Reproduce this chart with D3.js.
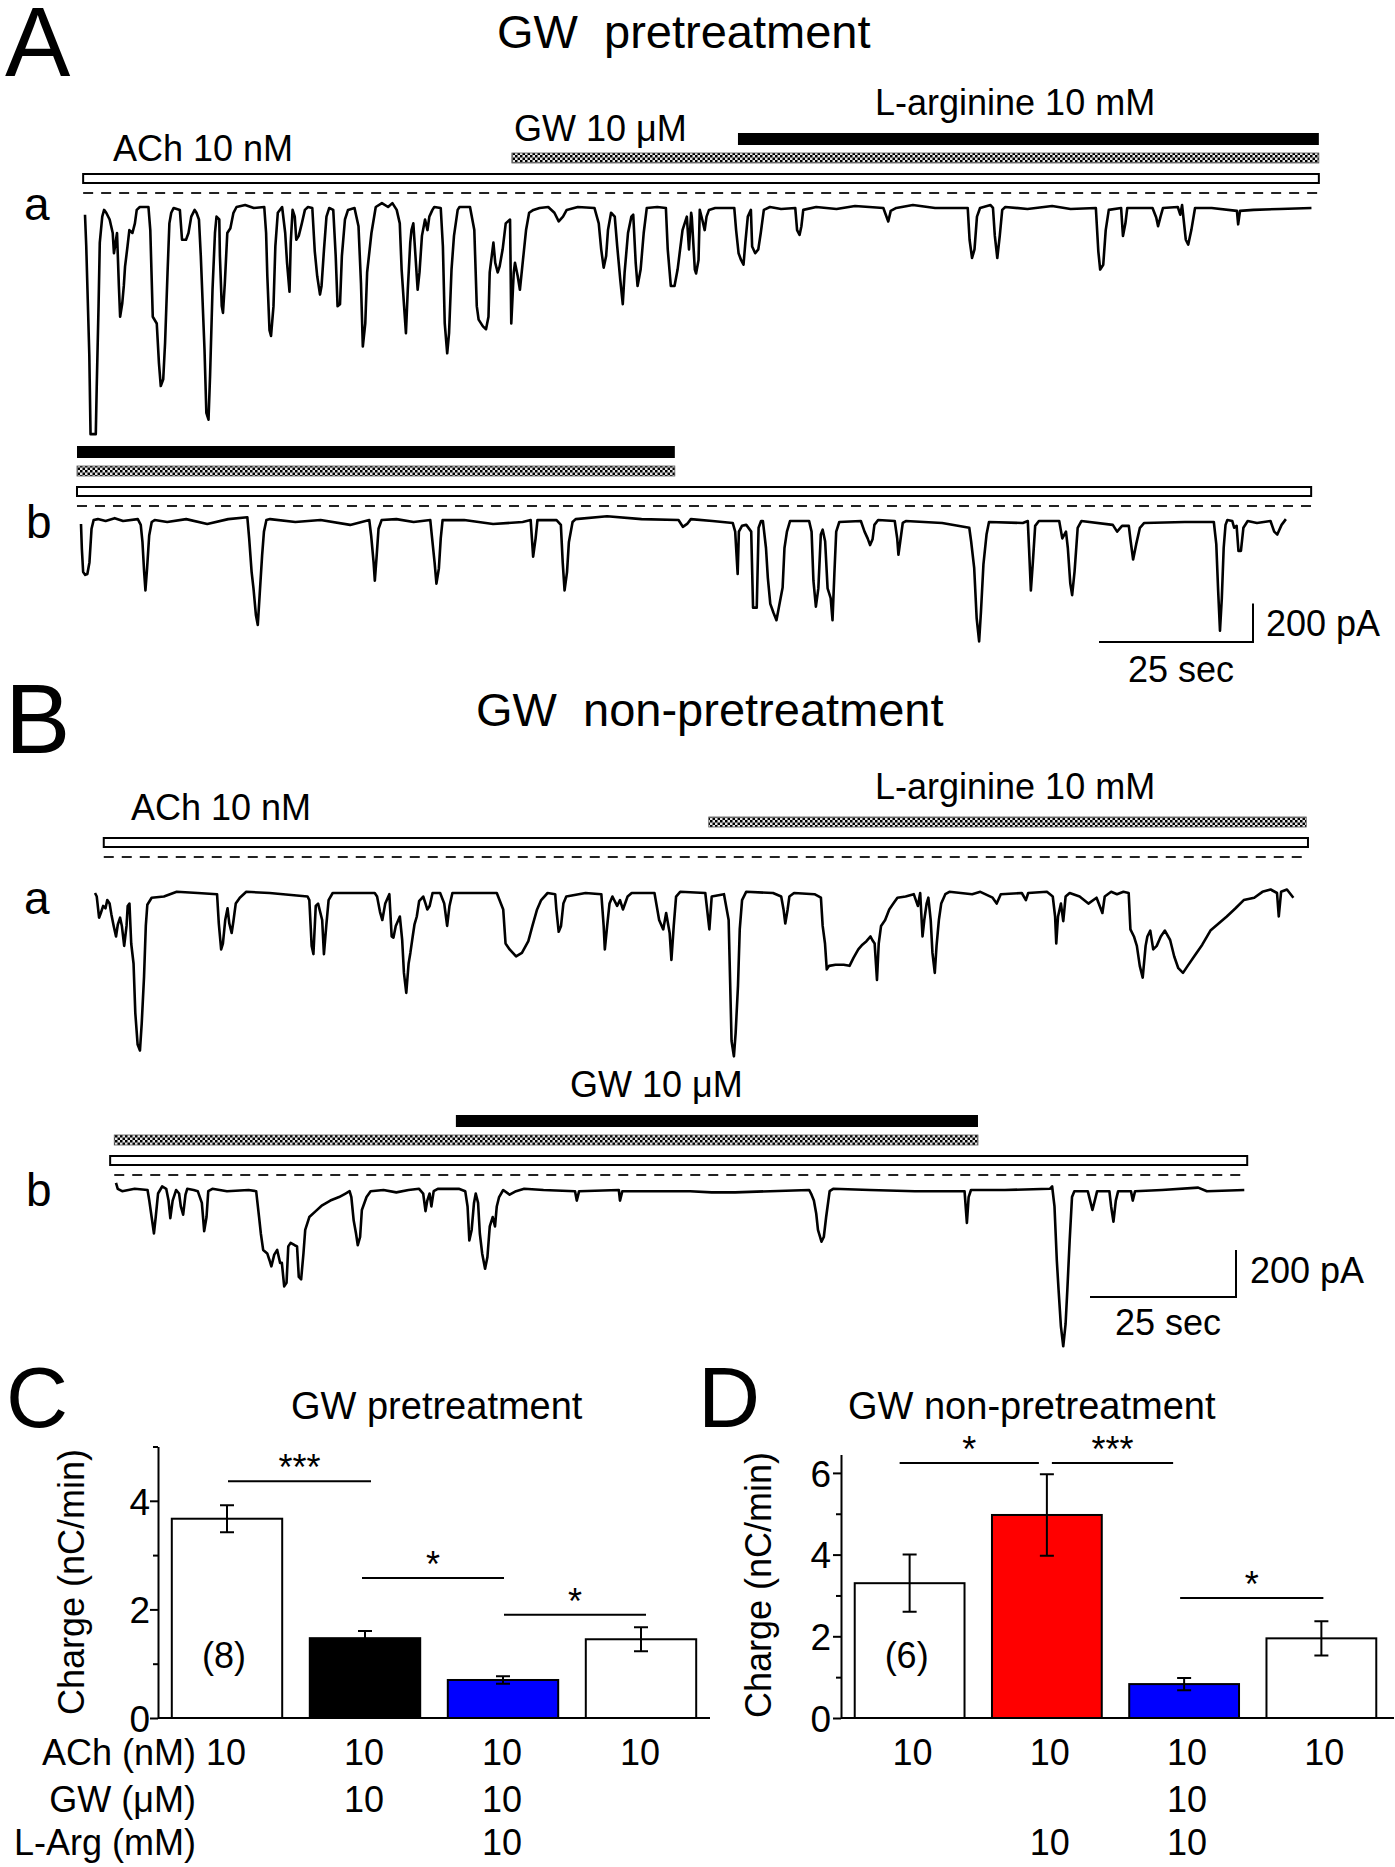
<!DOCTYPE html>
<html><head><meta charset="utf-8">
<script src="https://cdn.jsdelivr.net/npm/d3@7"></script>
<style>
body{margin:0;background:#fff;}
svg text{font-family:"Liberation Sans",Arial,Helvetica,sans-serif;fill:#000;}
</style></head><body>
<svg id="c" width="1395" height="1867" xmlns="http://www.w3.org/2000/svg"></svg>
<script>
// ===== DATA =====
// Traces: [time (s), current (pA)]
const traceAa = [[0,-40],[0.2,-200],[0.7,-770],[0.9,-1180],[1.75,-1180],[1.9,-940],[2.2,-515],[2.4,-185],[2.8,-50],[3.1,-15],[3.45,-30],[4.0,-65],[4.5,-135],[4.7,-240],[5.2,-135],[5.5,-410],[5.7,-570],[6.05,-500],[6.3,-410],[6.5,-310],[6.9,-205],[7.2,-120],[7.7,-135],[8.1,-85],[8.4,-15],[8.9,0],[10.3,0],[10.6,-120],[11.0,-570],[11.65,-605],[12.0,-810],[12.3,-930],[12.7,-895],[13.0,-705],[13.4,-340],[13.7,-85],[14.0,-30],[14.4,-5],[15.4,-15],[15.75,-170],[16.4,-170],[16.8,-135],[17.25,-50],[17.8,-15],[18.1,-30],[18.5,-65],[18.8,-255],[19.4,-740],[19.7,-1070],[20.05,-1105],[20.3,-880],[20.7,-430],[21.1,-135],[21.35,-50],[21.8,-65],[21.9,-255],[22.2,-515],[22.4,-550],[22.7,-395],[23.1,-135],[23.6,-110],[24.1,-30],[24.6,0],[26.0,10],[27.4,-5],[29.1,0],[29.4,-135],[29.6,-360],[29.95,-640],[30.2,-670],[30.6,-515],[30.9,-205],[31.3,-30],[32.0,0],[32.5,-135],[32.8,-290],[33.2,-440],[33.4,-185],[33.7,-15],[34.05,-50],[34.3,-170],[34.7,-150],[35.2,-85],[35.7,-15],[36.2,0],[36.9,-5],[37.3,-230],[37.7,-360],[38.15,-455],[38.4,-410],[38.8,-220],[39.2,-50],[39.65,-5],[40.3,-15],[40.7,-255],[41.0,-515],[41.4,-505],[41.7,-255],[42.2,-65],[42.7,-15],[43.75,-5],[44.4,-100],[44.8,-395],[45.1,-725],[45.5,-605],[45.8,-340],[46.5,-135],[47.2,0],[48.2,20],[49.2,0],[49.9,20],[50.6,-15],[51.1,-85],[51.4,-325],[51.8,-515],[52.1,-655],[52.4,-430],[52.8,-185],[53.0,-120],[53.3,-85],[53.65,-255],[54.0,-430],[54.3,-340],[54.7,-150],[55.2,-65],[55.6,-120],[55.9,-50],[56.4,-15],[56.7,0],[57.75,-5],[58.1,-205],[58.4,-605],[58.8,-760],[59.1,-655],[59.5,-325],[59.9,-150],[60.5,-15],[60.8,0],[62.5,0],[63.2,-120],[63.6,-515],[63.9,-585],[64.6,-620],[65.1,-635],[65.5,-570],[65.7,-340],[66.3,-185],[66.6,-290],[67.0,-340],[67.3,-310],[67.8,-220],[68.3,-85],[69.0,-65],[69.2,-605],[69.6,-340],[69.8,-290],[70.25,-360],[70.6,-430],[71.1,-275],[71.6,-120],[72.1,-30],[72.8,-15],[73.8,-5],[75.2,0],[76.2,-30],[76.9,-75],[77.6,-50],[78.2,-15],[80.0,0],[82.7,-5],[83.4,-85],[83.8,-220],[84.2,-315],[84.6,-255],[84.9,-120],[85.4,-30],[86.0,-50],[86.4,-205],[86.9,-380],[87.3,-505],[87.6,-340],[88.15,-135],[88.7,-50],[89.0,-40],[89.4,-290],[89.7,-410],[90.2,-325],[90.7,-135],[91.2,-5],[92.9,0],[94.3,-5],[94.6,-220],[95.1,-410],[95.7,-410],[96.2,-325],[97.0,-120],[97.7,-50],[98.05,-220],[98.4,-30],[98.5,-50],[99.0,-325],[99.2,-345],[99.6,-275],[99.8,-15],[100.2,-65],[100.6,-120],[100.9,-50],[101.3,-15],[102.3,-5],[105.4,-5],[105.7,-120],[106.1,-240],[106.5,-275],[106.9,-300],[107.2,-185],[107.6,-50],[108.1,-15],[108.3,-205],[108.8,-240],[109.3,-220],[109.7,-135],[110.2,-15],[111.2,0],[113.0,-10],[115.3,-5],[115.6,-120],[116.0,-145],[116.3,-100],[116.6,-15],[118.7,0],[122.0,-10],[125.0,5],[129.6,-5],[130.0,-40],[130.4,-75],[130.8,-20],[131.7,-5],[134.4,10],[138.0,-5],[143.3,-5],[143.6,-170],[144.0,-265],[144.4,-220],[144.8,-50],[145.3,-5],[147.0,10],[147.4,-5],[147.7,-150],[148.1,-265],[148.5,-150],[148.9,-15],[149.4,0],[153.0,-10],[157.0,5],[160.0,-10],[164.1,-5],[164.5,-230],[164.8,-325],[165.3,-300],[165.7,-120],[166.2,-15],[168.2,-5],[168.5,-150],[168.9,-85],[169.2,-5],[173.3,-5],[173.9,-55],[174.2,-100],[174.6,-50],[175.0,-5],[177.4,0],[177.8,-40],[178.1,10],[178.7,-170],[179.1,-195],[179.6,-120],[180.2,-5],[182.9,-5],[187.0,-20],[187.2,-90],[187.5,-20],[189.7,-15],[194.0,-10],[199.1,-5]];

const traceAb = [[0,-10],[0.14,-140],[0.35,-260],[0.69,-275],[1.03,-270],[1.37,-210],[1.71,-35],[2.05,10],[2.74,15],[4.0,5],[5.47,20],[6.83,5],[9.22,15],[9.7,-15],[9.98,-105],[10.25,-260],[10.46,-355],[10.73,-240],[11.07,-70],[11.48,0],[11.96,10],[14.0,0],[17.08,15],[20.5,-10],[23.9,15],[27.0,25],[27.3,-85],[27.7,-260],[28.0,-345],[28.4,-485],[28.7,-535],[29.0,-380],[29.4,-175],[29.7,-50],[30.1,10],[30.7,15],[34.8,0],[38.9,10],[43.7,-15],[46.8,10],[47.1,-70],[47.5,-210],[47.7,-305],[48.0,-175],[48.3,-35],[48.8,10],[51.2,15],[54.0,0],[56.7,10],[57.0,-85],[57.4,-210],[57.7,-320],[58.1,-240],[58.4,-85],[58.7,10],[62.2,10],[66.9,-10],[71.7,0],[73.0,10],[73.2,-85],[73.4,-180],[73.8,-85],[74.1,10],[77.2,10],[77.9,-15],[78.2,-210],[78.5,-355],[78.9,-260],[79.2,-105],[79.8,0],[80.3,15],[85.4,30],[91.0,15],[97.0,10],[97.7,-25],[98.4,-10],[99.0,15],[102.5,5],[105.8,-5],[106.2,-50],[106.6,-270],[106.8,-50],[107.3,-20],[108.0,-15],[108.8,-50],[109.1,-445],[109.7,-445],[110.0,-30],[110.4,5],[110.7,5],[111.2,-135],[111.5,-290],[111.9,-425],[112.4,-470],[112.9,-510],[113.4,-425],[113.9,-340],[114.2,-135],[114.6,-50],[115.1,5],[118.2,5],[118.6,-50],[118.9,-305],[119.3,-440],[119.7,-345],[120.1,-65],[120.4,-40],[120.8,-100],[121.2,-345],[121.7,-395],[122.0,-510],[122.3,-270],[122.6,-50],[123.1,0],[126.6,5],[127.2,-50],[127.7,-85],[128.1,-120],[128.5,-90],[128.8,-15],[129.4,10],[132.1,5],[132.5,-85],[132.7,-170],[133.0,-100],[133.4,-5],[133.9,5],[139.8,-5],[144.2,-30],[144.5,-100],[145.0,-240],[145.4,-500],[145.8,-620],[146.1,-465],[146.5,-220],[147.0,-65],[147.4,0],[152.9,-5],[153.7,5],[153.9,-135],[154.2,-355],[154.5,-220],[154.9,-20],[155.5,5],[158.8,5],[159.3,-85],[159.9,-50],[160.2,-135],[160.6,-320],[160.9,-380],[161.3,-255],[161.8,-30],[162.4,5],[167.5,-15],[168.2,-50],[169.0,-20],[170.1,-20],[170.4,-100],[170.8,-195],[171.3,-115],[171.9,-30],[172.6,-5],[179.2,0],[183.9,0],[184.3,-115],[184.6,-355],[184.9,-565],[185.2,-395],[185.5,-135],[185.8,-15],[186.1,10],[186.9,5],[187.2,-30],[187.6,-20],[187.9,-150],[188.3,-150],[188.7,-30],[189.4,5],[190.9,-5],[193.1,5],[193.7,-50],[194.2,-65],[194.9,-15],[195.6,15]];

const traceBa = [[0,0],[0.3,-15],[0.7,-105],[1.0,-85],[1.4,-55],[1.8,-65],[2.1,-30],[2.5,-45],[2.8,-90],[3.2,-140],[3.6,-185],[3.9,-135],[4.3,-105],[4.6,-140],[5.0,-225],[5.4,-140],[5.6,-55],[5.9,-45],[6.2,-215],[6.6,-300],[6.9,-510],[7.3,-645],[7.7,-670],[8.0,-555],[8.4,-355],[8.7,-140],[8.96,-50],[9.7,-20],[11.8,-15],[14.0,5],[17.6,0],[20.9,-5],[21.2,-130],[21.6,-240],[21.9,-215],[22.3,-115],[22.7,-65],[23.0,-130],[23.4,-170],[23.7,-120],[24.1,-45],[24.8,-20],[25.9,5],[29.9,0],[36.4,-15],[36.7,-30],[37.1,-225],[37.4,-260],[37.8,-55],[38.2,-45],[38.9,-115],[39.2,-260],[39.6,-140],[40.0,-30],[40.7,0],[47.9,0],[48.3,-15],[48.8,-80],[49.2,-115],[49.7,-45],[50.4,-5],[50.8,-185],[51.1,-190],[51.5,-140],[52.2,-100],[52.6,-200],[52.9,-340],[53.3,-425],[53.7,-300],[54.0,-255],[54.4,-185],[54.7,-135],[55.1,-100],[55.5,-35],[56.2,-15],[56.6,-45],[56.9,-70],[57.3,-55],[57.8,0],[59.1,0],[59.8,-45],[60.3,-140],[60.7,-55],[61.2,0],[68.8,0],[69.9,-70],[70.3,-215],[71.0,-240],[72.1,-270],[73.1,-255],[74.2,-205],[74.9,-140],[75.7,-70],[76.4,-30],[77.5,0],[78.8,-5],[79.0,-70],[79.4,-165],[79.8,-140],[80.2,-45],[80.7,-15],[84.0,0],[86.7,-5],[87.1,-140],[87.3,-240],[87.7,-140],[88.1,-45],[88.6,-15],[89.4,-55],[89.9,-30],[90.4,-70],[91.2,-15],[91.9,0],[95.8,0],[96.6,-115],[97.3,-155],[97.8,-85],[98.4,-170],[98.7,-285],[99.1,-140],[99.5,-15],[100.2,5],[104.5,0],[105.2,-155],[105.6,-15],[107.7,-5],[108.5,-115],[109.0,-630],[109.4,-695],[109.7,-595],[110.1,-395],[110.4,-155],[110.8,-30],[111.5,5],[116.1,0],[117.5,-15],[117.9,-70],[118.2,-130],[118.6,-70],[118.9,-15],[119.7,0],[123.2,-5],[124.3,-20],[124.6,-140],[125.0,-215],[125.3,-325],[125.7,-310],[126.8,-305],[128.2,-305],[129.2,-310],[129.9,-275],[130.7,-240],[131.4,-220],[132.1,-205],[132.8,-185],[133.1,-200],[133.5,-215],[133.9,-370],[134.2,-215],[134.6,-140],[135.3,-115],[136.0,-70],[136.7,-45],[137.4,-20],[138.8,-15],[140.2,-5],[140.9,-55],[141.3,0],[141.7,-185],[142.0,-115],[142.4,-45],[142.7,-20],[143.1,-115],[143.4,-255],[143.8,-340],[144.1,-225],[144.5,-115],[144.9,-45],[145.6,-5],[146.3,5],[150.2,-5],[151.6,5],[153.7,-20],[154.4,-45],[155.1,-5],[158.7,0],[159.4,-30],[159.8,0],[163.0,5],[164.0,-15],[164.4,-100],[164.6,-215],[164.9,-100],[165.4,-45],[165.8,-120],[166.2,-15],[166.9,0],[168.6,-15],[170.1,-45],[171.5,-20],[172.5,-85],[172.9,-15],[174.0,5],[175.0,-5],[176.1,5],[177.0,0],[177.3,-155],[177.9,-185],[178.4,-225],[178.9,-310],[179.4,-360],[179.9,-225],[180.2,-185],[180.7,-160],[181.2,-240],[181.8,-225],[182.5,-185],[183.2,-160],[184.1,-200],[184.8,-270],[185.5,-320],[186.3,-340],[187.1,-310],[188.2,-270],[189.6,-220],[191.0,-160],[192.4,-130],[193.8,-100],[195.3,-65],[196.7,-30],[198.5,-20],[199.9,5],[201.3,15],[202.4,0],[202.7,-100],[203.1,5],[204.1,15],[205.2,-20]];

const traceBb = [[0,30],[0.3,5],[1.05,-5],[3.2,5],[5.4,0],[5.7,-45],[6.1,-115],[6.5,-185],[6.8,-115],[7.2,-15],[7.9,15],[8.6,5],[9.0,-45],[9.3,-120],[9.7,-45],[10.3,0],[10.8,-15],[11.1,-70],[11.5,-105],[11.9,-20],[12.2,5],[13.3,0],[14.0,-5],[14.7,-55],[15.1,-175],[15.5,-115],[15.8,-5],[16.5,5],[19.0,-5],[22.7,0],[24.0,-5],[24.5,-115],[24.8,-185],[25.2,-255],[25.9,-270],[26.3,-300],[26.6,-325],[27.1,-275],[27.6,-255],[28.1,-310],[28.4,-310],[28.8,-410],[29.2,-395],[29.5,-240],[29.9,-225],[30.6,-235],[31.0,-240],[31.3,-370],[31.7,-380],[32.1,-270],[32.4,-170],[33.1,-115],[34.2,-90],[35.3,-65],[36.7,-45],[38.2,-30],[39.3,-15],[40.0,-5],[40.3,-30],[40.7,-130],[41.1,-185],[41.4,-235],[41.8,-200],[42.1,-85],[42.9,-30],[43.6,-5],[45.8,0],[48.0,-10],[50.1,0],[51.9,5],[52.6,-15],[53.0,-90],[53.3,-45],[53.7,-15],[54.0,-70],[54.4,-5],[55.1,5],[58.7,5],[59.8,-5],[60.2,-70],[60.5,-215],[60.9,-170],[61.3,-55],[61.6,-15],[62.0,-55],[62.3,-185],[62.7,-270],[63.2,-335],[63.6,-285],[64.0,-155],[64.5,-115],[64.9,-155],[65.2,-70],[65.6,-30],[66.3,0],[67.4,-20],[68.5,-5],[69.9,5],[73.2,0],[78.6,-5],[78.9,-45],[79.3,-5],[86.1,0],[86.3,-45],[86.7,-5],[94.8,-5],[98.3,-5],[102.0,-10],[106.0,-10],[112.0,-5],[118.7,0],[119.1,-20],[119.5,-45],[119.9,-100],[120.2,-170],[120.8,-220],[121.2,-200],[121.6,-115],[122.2,-5],[122.8,5],[129.1,0],[136.8,-5],[145.3,-5],[145.7,-140],[146.0,-30],[146.4,0],[152.2,0],[159.9,5],[160.3,15],[160.7,-70],[161.1,-300],[161.4,-425],[161.8,-580],[162.2,-665],[162.6,-570],[162.9,-425],[163.3,-215],[163.7,-30],[164.1,-5],[166.4,-5],[166.8,-45],[167.2,-85],[167.6,-45],[168.0,-5],[170.1,-5],[170.4,-70],[170.8,-135],[171.2,-45],[171.6,-5],[173.8,-5],[174.1,-45],[174.5,-5],[179.1,0],[185.3,10],[186.8,-5],[193.2,0]];

// Drug application periods (s, relative to each trace start)
const appsAa = [{kind:"solid",t0:106.0,t1:200.3},{kind:"hatch",t0:69.3,t1:200.3},{kind:"open",t0:-0.3,t1:200.3}];
const appsAb = [{kind:"solid",t0:-0.65,t1:96.4},{kind:"hatch",t0:-0.65,t1:96.4},{kind:"open",t0:-0.65,t1:199.7}];
const appsBa = [{kind:"hatch",t0:105.1,t1:207.4},{kind:"open",t0:1.5,t1:207.7}];
const appsBb = [{kind:"solid",t0:58.2,t1:147.6},{kind:"hatch",t0:-0.3,t1:147.6},{kind:"open",t0:-1.0,t1:193.7}];
const dashAa = [-0.3,200.3], dashAb = [-0.65,199.7], dashBa = [1.5,207.7], dashBb = [-0.3,193.2];

// Bar chart data
const conditions = ["ACh", "ACh+GW", "ACh+GW+L-Arg", "ACh wash"];
const chargeC = [3.67, 1.47, 0.70, 1.45];
const errC = [0.25, 0.13, 0.07, 0.22];
const chargeD = [3.30, 4.97, 0.83, 1.95];
const errD = [0.70, 1.00, 0.15, 0.42];
const colorsC = ["#ffffff","#000000","#0000ff","#ffffff"];
const colorsD = ["#ffffff","#ff0000","#0000ff","#ffffff"];
const rowNames = ["ACh (nM)","GW (μM)","L-Arg (mM)"];
const rowsC = [["10","10","10","10"],["","10","10",""],["","","10",""]];
const rowsD = [["10","10","10","10"],["","","10",""],["","10","10",""]];
const sigC = [[0,1,4.36,"***"],[1,2,2.58,"*"],[2,3,1.90,"*"]];
const sigD = [[0,1,6.24,"*"],[1,2,6.24,"***"],[2,3,2.94,"*"]];
const yTicksMajorC = [0,2,4], yTicksMinorC = [1,3,5];
const yTicksMajorD = [0,2,4,6], yTicksMinorD = [1,3,5];

// ===== DRAWING =====
const svg = d3.select("#c");
function txt(x,y,s,size,anchor){
  return svg.append("text").attr("x",x).attr("y",y).attr("font-size",size)
    .attr("text-anchor",anchor||"start").style("white-space","pre").text(s);
}
const defs = svg.append("defs");
const pat = defs.append("pattern").attr("id","chk").attr("width",5).attr("height",5).attr("patternUnits","userSpaceOnUse");
pat.append("rect").attr("width",5).attr("height",5).attr("fill","#e8e8e8");
pat.append("rect").attr("width",2.5).attr("height",2.5).attr("fill","#000");
pat.append("rect").attr("x",2.5).attr("y",2.5).attr("width",2.5).attr("height",2.5).attr("fill","#000");

function drawRow(cfg){
  const x = d3.scaleLinear().domain([0,25]).range([cfg.x0, cfg.x0 + cfg.px25]);
  const y = d3.scaleLinear().domain([0,-200]).range([cfg.yBase, cfg.yBase + cfg.px200]);
  cfg.apps.forEach(a=>{
    const r = svg.append("rect").attr("x",x(a.t0)).attr("width",x(a.t1)-x(a.t0));
    if(a.kind==="open") r.attr("y",cfg.dashY-19).attr("height",9).attr("fill","#fff").attr("stroke","#000").attr("stroke-width",2);
    else if(a.kind==="hatch") r.attr("y",cfg.dashY-40).attr("height",10).attr("fill","url(#chk)").attr("stroke","#555").attr("stroke-width",0.8);
    else r.attr("y",cfg.dashY-60).attr("height",12).attr("fill","#000");
  });
  svg.append("line").attr("x1",x(cfg.dash[0])).attr("x2",x(cfg.dash[1]))
    .attr("y1",cfg.dashY).attr("y2",cfg.dashY).attr("stroke","#222").attr("stroke-width",2).attr("stroke-dasharray","10,8");
  svg.append("path").datum(cfg.data)
    .attr("d", d3.line().x(d=>x(d[0])).y(d=>y(d[1])))
    .attr("fill","none").attr("stroke","#000").attr("stroke-width",2.6).attr("stroke-linejoin","round");
  return {x,y};
}
function scaleBar(sc, xr, yb, lab1Pos, lab2Pos){
  const w = sc.x(25)-sc.x(0), h = sc.y(-200)-sc.y(0);
  svg.append("path").attr("d",`M${xr-w},${yb}H${xr}V${yb-h}`).attr("fill","none").attr("stroke","#000").attr("stroke-width",2);
  txt(lab1Pos[0],lab1Pos[1],"200 pA",36);
  txt(lab2Pos[0],lab2Pos[1],"25 sec",36);
}

// Panel A
txt(5,76,"A",98);
txt(497,48,"GW  pretreatment",47);
txt(113,161,"ACh 10 nM",36);
txt(514,141,"GW 10 μM",36);
txt(875,115,"L-arginine 10 mM",36);
txt(24,220,"a",46);
txt(26,538,"b",46);
const sAa = drawRow({x0:85,px25:154,yBase:207,px200:38.5,dashY:193,apps:appsAa,dash:dashAa,data:traceAa});
drawRow({x0:81,px25:154,yBase:522,px200:38.5,dashY:506,apps:appsAb,dash:dashAb,data:traceAb});
scaleBar(sAa,1253,642,[1266,636],[1128,682]);

// Panel B
txt(5,753,"B",98);
txt(476,726,"GW  non-pretreatment",47);
txt(131,820,"ACh 10 nM",36);
txt(875,799,"L-arginine 10 mM",36);
txt(570,1097,"GW 10 μM",36);
txt(24,914,"a",46);
txt(26,1206,"b",46);
const sBa = drawRow({x0:95,px25:146,yBase:893,px200:47,dashY:857,apps:appsBa,dash:dashBa,data:traceBa});
drawRow({x0:116,px25:146,yBase:1190,px200:47,dashY:1175,apps:appsBb,dash:dashBb,data:traceBb});
scaleBar(sBa,1236,1297,[1250,1283],[1115,1335]);

// Bar charts
function barChart(cfg){
  const g = svg.append("g");
  const x = d3.scaleBand().domain(d3.range(cfg.values.length)).range(cfg.xRange).paddingInner(0.2).paddingOuter(0.1);
  const y = d3.scaleLinear().domain([0,cfg.yMax]).range([cfg.y0, cfg.y0 - cfg.pxUnit*cfg.yMax]);
  const cx = i => x(i) + x.bandwidth()/2;
  g.selectAll("rect.bar").data(cfg.values).join("rect").attr("class","bar")
    .attr("x",(d,i)=>x(i)).attr("width",x.bandwidth()).attr("y",d=>y(d)).attr("height",d=>y(0)-y(d))
    .attr("fill",(d,i)=>cfg.colors[i]).attr("stroke","#000").attr("stroke-width",2);
  cfg.values.forEach((v,i)=>{
    const e = cfg.errs[i], c = cx(i);
    g.append("path").attr("d",`M${c},${y(v-e)}V${y(v+e)}M${c-7},${y(v+e)}H${c+7}M${c-7},${y(v-e)}H${c+7}`)
      .attr("stroke","#000").attr("stroke-width",2).attr("fill","none");
  });
  const ax = g.append("g").attr("transform",`translate(${cfg.xRange[0]},0)`)
    .call(d3.axisLeft(y).tickValues(cfg.major).tickSize(8).tickSizeOuter(0).tickPadding(cfg.pad).tickFormat(d3.format("d")));
  ax.select(".domain").attr("stroke-width",2);
  ax.selectAll(".tick line").attr("stroke-width",2);
  ax.selectAll(".tick text").attr("font-size",37).attr("font-family","'Liberation Sans',Arial,sans-serif").attr("dy","0.36em");
  const mx = g.append("g").attr("transform",`translate(${cfg.xRange[0]},0)`)
    .call(d3.axisLeft(y).tickValues(cfg.minor).tickSize(5).tickSizeOuter(0).tickFormat(""));
  mx.select(".domain").remove();
  mx.selectAll(".tick line").attr("stroke-width",2);
  g.append("line").attr("x1",cfg.xRange[0]).attr("x2",cfg.xEnd).attr("y1",y(0)).attr("y2",y(0)).attr("stroke","#000").attr("stroke-width",2);
  g.append("text").attr("transform",`translate(${cfg.ylabX},${cfg.ylabY}) rotate(-90)`).attr("text-anchor","middle").attr("font-size",36).text("Charge (nC/min)");
  g.append("text").attr("x",cx(0)-3).attr("y",cfg.y0-50).attr("text-anchor","middle").attr("font-size",36).text(cfg.nLabel);
  cfg.sig.forEach((s,k)=>{
    const off = cfg.sigOff[k];
    const x1 = cx(s[0])+off[0], x2 = cx(s[1])+off[1];
    g.append("line").attr("x1",x1).attr("x2",x2).attr("y1",y(s[2])).attr("y2",y(s[2])).attr("stroke","#000").attr("stroke-width",2);
    g.append("text").attr("x",(x1+x2)/2).attr("y",y(s[2])-1).attr("text-anchor","middle").attr("font-size",36).text(s[3]);
  });
  const rowY = [1765,1812,1855];
  cfg.rows.forEach((row,r)=>{
    row.forEach((v,i)=>{ if(v) g.append("text").attr("x",cx(i)+cfg.valOff).attr("y",rowY[r]).attr("text-anchor","middle").attr("font-size",36).text(v); });
    if(cfg.rowNames) g.append("text").attr("x",196).attr("y",rowY[r]).attr("text-anchor","end").attr("font-size",36).style("white-space","pre").text(cfg.rowNames[r]);
  });
}
txt(6,1427,"C",86);
txt(291,1419,"GW pretreatment",38);
barChart({values:chargeC,errs:errC,colors:colorsC,xRange:[158,710],xEnd:710,yMax:5,y0:1718,pxUnit:54.3,
  major:yTicksMajorC,minor:yTicksMinorC,pad:0,ylabX:84,ylabY:1582,nLabel:"(8)",sig:sigC,
  sigOff:[[1,6],[-3,1],[1,5]],rows:rowsC,rowNames:rowNames,valOff:-1});
txt(698,1427,"D",86);
txt(848,1419,"GW non-pretreatment",38);
barChart({values:chargeD,errs:errD,colors:colorsD,xRange:[841,1390],xEnd:1394,yMax:6.45,y0:1718,pxUnit:40.85,
  major:yTicksMajorD,minor:yTicksMinorD,pad:2,ylabX:771,ylabY:1585,nLabel:"(6)",sig:sigD,
  sigOff:[[-10,-8],[5,-11],[-4,2]],rows:rowsD,rowNames:null,valOff:3});
</script>
</body></html>
